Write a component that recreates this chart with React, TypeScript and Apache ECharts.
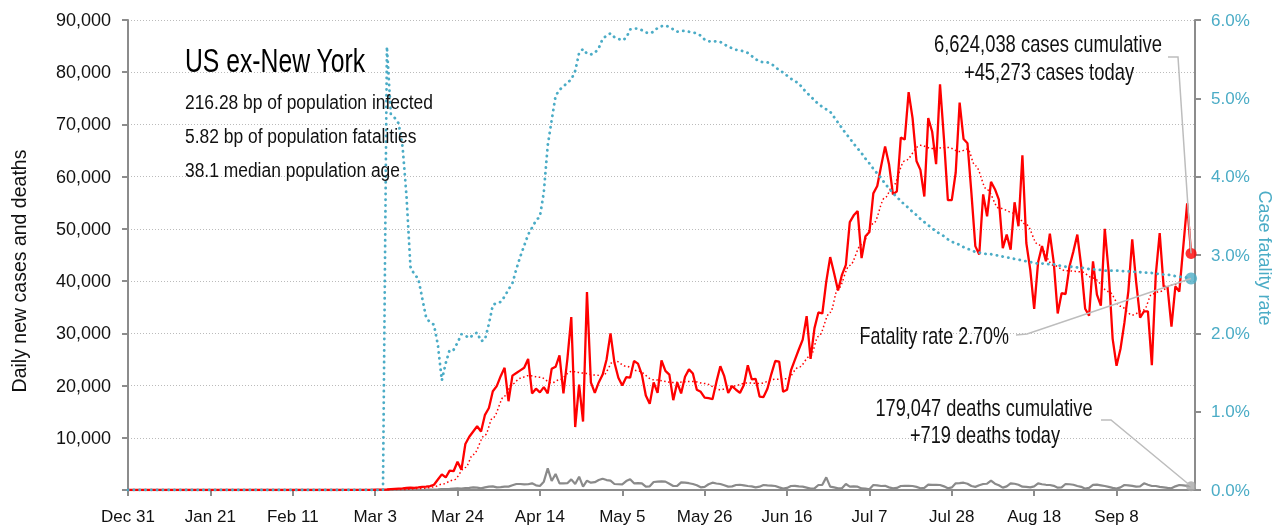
import { useEffect, useRef } from "react";
import * as echarts from "echarts";

const FONT = "'Liberation Sans', Arial, sans-serif";

// x-axis tick labels every 21 days starting Dec 31, 2019
const xTickLabels = ["Dec 31", "Jan 21", "Feb 11", "Mar 3", "Mar 24", "Apr 14", "May 5", "May 26", "Jun 16", "Jul 7", "Jul 28", "Aug 18", "Sep 8"];
const TICK_STEP = 21;
const AXIS_DAYS = 272; // last axis position (day index from Dec 31)

// daily new cases, day 0 = Dec 31
const dailyCases = [
  0, 0, 0, 0, 0, 0, 0, 0, 0, 0,
  0, 0, 0, 0, 0, 0, 0, 0, 0, 0,
  0, 0, 0, 0, 0, 0, 0, 0, 0, 0,
  0, 0, 0, 0, 0, 0, 0, 0, 0, 0,
  0, 0, 0, 0, 0, 0, 0, 0, 0, 0,
  0, 1, 0, 2, 3, 5, 8, 10, 15, 20,
  25, 30, 40, 50, 60, 80, 100, 150, 200, 250,
  300, 380, 450, 420, 500, 600, 650, 750, 1000, 2000,
  3000, 2400, 3700, 3600, 5400, 3900, 8800, 10200, 11200, 12200,
  11200, 14400, 15700, 18900, 19900, 21800, 23400, 17000, 21900, 22400,
  22900, 23400, 25100, 18500, 19400, 18700, 19700, 18500, 23200, 23600,
  25800, 18500, 25000, 33100, 12050, 20200, 13100, 37900, 20600, 18600,
  20600, 22100, 25000, 30000, 24400, 21500, 20000, 21600, 21500, 24700,
  24200, 22100, 18100, 16500, 20600, 18600, 24800, 22800, 22100, 17200,
  20600, 18500, 21700, 23100, 22300, 19200, 18800, 17700, 17600, 17400,
  20700, 23700, 21800, 18600, 19900, 19200, 18600, 20100, 23900, 21200,
  21300, 17900, 17800, 19400, 22200, 24700, 24600, 18800, 19200, 22900,
  24900, 26900, 28800, 33300, 25100, 31000, 34000, 33800, 39900, 44600,
  41500, 38200, 41200, 43100, 51300, 52600, 53400, 44400, 48600, 49400,
  56800, 58200, 62100, 65800, 62400, 56600, 57200, 67500, 67100, 76200,
  71200, 63000, 61300, 56200, 71200, 68600, 62400, 77700, 67300, 55500,
  55500, 60800, 74200, 67200, 66400, 56900, 46700, 45100, 56600, 52400,
  59000, 57600, 55600, 46300, 48900, 46000, 55100, 50500, 64100, 47300,
  42200, 34700, 43600, 46700, 43800, 49100, 43500, 33800, 37700, 37500,
  42800, 45700, 48900, 42800, 34700, 33400, 43800, 37400, 35300, 50000,
  41700, 29000, 23800, 27000, 32000, 38000, 48000, 39800, 33000, 34200,
  34200, 23900, 41200, 49200, 39000, 38800, 31300, 39000, 38000, 46500,
  54900, 45273,
];

// daily new deaths
const dailyDeaths = [
  0, 0, 0, 0, 0, 0, 0, 0, 0, 0,
  0, 0, 0, 0, 0, 0, 0, 0, 0, 0,
  0, 0, 0, 0, 0, 0, 0, 0, 0, 0,
  0, 0, 0, 0, 0, 0, 0, 0, 0, 0,
  0, 0, 0, 0, 0, 0, 0, 0, 0, 0,
  0, 0, 0, 0, 0, 0, 0, 0, 0, 0,
  0, 0, 0, 0, 0, 0,
  1, 5, 5, 10, 10, 20, 20, 30, 40, 50, 60, 80, 100, 120, 150,
  180, 200, 250, 300, 280, 350, 420, 500, 450, 300,
  500, 640, 700, 500, 560, 640, 640, 900, 1150, 1150,
  1080, 1100, 1280, 900, 770, 1600, 4150, 1720, 3060, 1280,
  1250, 1300, 2040, 1150, 2550, 640, 1790, 1400, 1500, 1900,
  2170, 1900, 1790, 1150, 1100, 1080, 1700, 2040, 1280, 1300,
  1280, 640, 700, 1530, 1600, 1650, 1600, 1200, 770, 800,
  1470, 1400, 1300, 1150, 900, 510, 600, 1100, 1400, 1250,
  1150, 900, 640, 700, 960, 1000, 900, 770, 700, 500,
  640, 960, 900, 850, 770, 500, 260, 400, 770, 800,
  700, 640, 450, 260, 300, 960, 1000, 2420, 640, 500,
  320, 320, 1150, 640, 700, 640, 300, 260, 130, 960,
  900, 770, 800, 500, 320, 400, 770, 800, 800, 770,
  600, 320, 400, 1020, 1000, 1000, 960, 700, 320, 500,
  1280, 1300, 1400, 1200, 770, 600, 900, 1150, 1200, 1790,
  1200, 900, 450, 700, 1280, 1200, 1000, 640, 600, 510,
  700, 1280, 1100, 1000, 960, 800, 450, 500, 1150, 1100,
  1000, 770, 600, 260, 400, 1000, 1020, 900, 770, 600,
  400, 260, 500, 960, 900, 800, 640, 700, 1280, 1000,
  770, 770, 600, 510, 400, 320, 700, 960, 900, 800,
  719,
];

// case fatality rate, %
const fatalityRate = [
  0, 0, 0, 0, 0, 0, 0, 0, 0, 0,
  0, 0, 0, 0, 0, 0, 0, 0, 0, 0,
  0, 0, 0, 0, 0, 0, 0, 0, 0, 0,
  0, 0, 0, 0, 0, 0, 0, 0, 0, 0,
  0, 0, 0, 0, 0, 0, 0, 0, 0, 0,
  0, 0, 0, 0, 0, 0, 0, 0, 0, 0,
  0, 0, 0, 0, 0, 0,
  5.66, 4.80, 4.75, 4.68, 4.38, 3.75, 2.85, 2.75, 2.70, 2.45,
  2.20, 2.14, 2.11, 1.85, 1.40, 1.62, 1.79, 1.79, 1.88, 1.99,
  1.97, 1.94, 1.98, 2.01, 1.90, 1.92, 2.12, 2.36, 2.39, 2.40,
  2.47, 2.56, 2.64, 2.82, 2.98, 3.12, 3.26, 3.35, 3.44, 3.49,
  3.80, 4.40, 4.72, 5.03, 5.11, 5.15, 5.20, 5.24, 5.35, 5.58,
  5.63, 5.57, 5.56, 5.58, 5.64, 5.76, 5.80, 5.83, 5.78, 5.76,
  5.74, 5.77, 5.88, 5.89, 5.89, 5.87, 5.84, 5.83, 5.85, 5.90,
  5.92, 5.93, 5.91, 5.88, 5.85, 5.86, 5.86, 5.85, 5.84, 5.83,
  5.80, 5.75, 5.73, 5.72, 5.73, 5.72, 5.69, 5.66, 5.64, 5.62,
  5.61, 5.60, 5.58, 5.54, 5.50, 5.47, 5.46, 5.46, 5.44, 5.40,
  5.36, 5.33, 5.29, 5.25, 5.22, 5.19, 5.13, 5.07, 5.03, 4.97,
  4.93, 4.89, 4.86, 4.83, 4.76, 4.69, 4.62, 4.55, 4.49, 4.42,
  4.36, 4.30, 4.23, 4.17, 4.10, 4.04, 3.98, 3.91, 3.85, 3.79,
  3.74, 3.69, 3.64, 3.60, 3.55, 3.51, 3.46, 3.42, 3.38, 3.34,
  3.30, 3.27, 3.24, 3.20, 3.17, 3.15, 3.13, 3.10, 3.08, 3.06,
  3.04, 3.03, 3.02, 3.01, 3.01, 3.00, 2.99, 2.98, 2.97, 2.96,
  2.95, 2.94, 2.93, 2.92, 2.91, 2.90, 2.89, 2.89, 2.89, 2.88,
  2.88, 2.87, 2.86, 2.85, 2.85, 2.85, 2.84, 2.84, 2.83, 2.82,
  2.82, 2.81, 2.81, 2.80, 2.80, 2.80, 2.80, 2.80, 2.79, 2.79,
  2.79, 2.78, 2.78, 2.78, 2.77, 2.77, 2.76, 2.76, 2.75, 2.75,
  2.74, 2.73, 2.72, 2.72, 2.71, 2.70,
];

// trend (moving average) of cases, read at these days
const trendDays = [0, 60, 70, 75, 78, 80, 83, 86, 88, 91, 93, 96, 98, 100, 102, 105, 108, 110, 113, 116, 119, 121, 124, 127, 130, 134, 139, 144, 147, 151, 154, 158, 161, 165, 168, 171, 174, 176, 179, 181, 184, 187, 190, 193, 195, 198, 202, 205, 209, 212, 214, 216, 219, 222, 226, 229, 232, 236, 239, 243, 246, 250, 253, 256, 259, 261, 263, 266, 268];
const trendValues = [0, 0, 100, 300, 600, 1100, 1900, 4300, 6800, 10500, 13800, 18000, 20300, 21400, 21900, 21600, 20500, 21100, 22700, 22400, 22000, 21900, 24800, 23700, 22800, 21100, 20600, 20800, 20400, 19200, 19900, 20500, 20400, 21200, 21300, 23500, 25700, 29400, 34000, 38500, 43000, 47000, 51000, 56000, 58200, 63000, 66000, 65400, 65600, 64800, 65300, 62100, 57500, 54000, 53000, 50800, 47000, 43000, 42000, 41800, 40600, 38000, 35200, 33500, 34500, 37500, 38000, 39200, 39600];

const titleText = "US ex-New York";
const statLines = ["216.28 bp of population infected", "5.82 bp of population fatalities", "38.1 median population age"];
const casesNote = ["6,624,038 cases cumulative", "+45,273 cases today"];
const deathsNote = ["179,047 deaths cumulative", "+719 deaths today"];
const fatalityNote = "Fatality rate 2.70%";

const RED = "#ff0000";
const BLUE = "#4bacc6";
const GRAY = "#8a8a8a";
const AXIS = "#8c8c8c";
const LEADER = "#bdbdbd";

function dayLabel(i: number): string {
  const d = new Date(Date.UTC(2019, 11, 31 + i));
  const m = ["Jan", "Feb", "Mar", "Apr", "May", "Jun", "Jul", "Aug", "Sep", "Oct", "Nov", "Dec"][d.getUTCMonth()];
  return `${m} ${d.getUTCDate()}`;
}

export default function App() {
  const ref = useRef<HTMLDivElement>(null);
  useEffect(() => {
    const chart = echarts.init(ref.current!, null, { renderer: "svg" });
    const categories = Array.from({ length: AXIS_DAYS + 1 }, (_, i) => dayLabel(i));
    const last = dailyCases.length - 1;

    chart.setOption({
      animation: false,
      textStyle: { fontFamily: FONT },
      grid: { left: 128, right: 80, top: 20, bottom: 39, containLabel: false },
      xAxis: {
        type: "category",
        data: categories,
        boundaryGap: false,
        axisLine: { lineStyle: { color: AXIS, width: 2 } },
        axisTick: { interval: TICK_STEP - 1, length: 6, lineStyle: { color: AXIS, width: 2 } },
        axisLabel: {
          interval: TICK_STEP - 1,
          color: "#111",
          fontSize: 17,
          fontFamily: FONT,
          margin: 18,
          formatter: (_v: string, idx: number) => xTickLabels[idx / TICK_STEP] ?? "",
        },
        splitLine: { show: false },
      },
      yAxis: [
        {
          type: "value",
          min: 0,
          max: 90000,
          interval: 10000,
          axisLine: { show: true, lineStyle: { color: AXIS, width: 2 } },
          axisTick: { show: true, length: 6, lineStyle: { color: AXIS, width: 2 } },
          axisLabel: {
            color: "#111",
            fontSize: 18,
            fontFamily: FONT,
            margin: 17,
            formatter: (v: number) => (v === 0 ? "" : v.toLocaleString("en-US")),
          },
          splitLine: { show: true, lineStyle: { color: "#bbbbbb", width: 1, type: [1, 2] } },
        },
        {
          type: "value",
          min: 0,
          max: 6,
          interval: 1,
          position: "right",
          axisLine: { show: true, lineStyle: { color: AXIS, width: 2 } },
          axisTick: { show: true, length: 6, lineStyle: { color: AXIS, width: 2 } },
          axisLabel: {
            color: BLUE,
            fontSize: 17,
            fontFamily: FONT,
            margin: 16,
            formatter: (v: number) => v.toFixed(1) + "%",
          },
          splitLine: { show: false },
        },
      ],
      series: [
        {
          name: "deaths",
          type: "line",
          data: dailyDeaths,
          showSymbol: false,
          lineStyle: { color: GRAY, width: 2.2 },
          z: 2,
        },
        {
          name: "trend",
          type: "line",
          data: trendDays.map((d, i) => [d, trendValues[i]]),
          showSymbol: false,
          smooth: 0.35,
          smoothMonotone: "x",
          lineStyle: { color: RED, width: 1.5, type: [1.5, 2.5] },
          z: 3,
        },
        {
          name: "cases",
          type: "line",
          data: dailyCases,
          showSymbol: false,
          lineStyle: { color: RED, width: 2.3 },
          z: 4,
        },
        {
          name: "fatality",
          type: "line",
          yAxisIndex: 1,
          data: fatalityRate,
          showSymbol: false,
          lineStyle: { color: BLUE, width: 2.8, type: [0.2, 5.6], cap: "round" },
          z: 5,
        },
        {
          type: "scatter",
          data: [[last, dailyDeaths[last]]],
          symbolSize: 10,
          itemStyle: { color: "#a8a8a8" },
          z: 6,
        },
        {
          type: "scatter",
          data: [[last, dailyCases[last]]],
          symbolSize: 11,
          itemStyle: { color: RED },
          z: 6,
        },
        {
          type: "scatter",
          yAxisIndex: 1,
          data: [[last, fatalityRate[last]]],
          symbolSize: 12,
          itemStyle: { color: BLUE },
          z: 6,
        },
      ],
    });

    const pc = chart.convertToPixel({ xAxisIndex: 0, yAxisIndex: 0 }, [last, dailyCases[last]]) as number[];
    const pd = chart.convertToPixel({ xAxisIndex: 0, yAxisIndex: 0 }, [last, dailyDeaths[last]]) as number[];
    const pf = chart.convertToPixel({ xAxisIndex: 0, yAxisIndex: 1 }, [last, fatalityRate[last]]) as number[];

    const txt = (text: string, x: number, y: number, size: number, sx: number, align = "left", fill = "#111", rotation = 0) => ({
      type: "text",
      x,
      y,
      rotation,
      scaleX: sx,
      z: 10,
      style: { text, fontSize: size, fontFamily: FONT, fill, align, verticalAlign: "middle" },
    });
    const leader = (pts: number[][]) => ({
      type: "polyline",
      z: 7,
      shape: { points: pts },
      style: { stroke: LEADER, lineWidth: 1.5, fill: "none" },
    });

    chart.setOption({
      graphic: [
        txt(titleText, 185, 61, 33, 0.75, "left", "#000"),
        txt(statLines[0], 185, 102, 21, 0.83),
        txt(statLines[1], 185, 136, 21, 0.83),
        txt(statLines[2], 185, 170, 21, 0.83),
        txt(casesNote[0], 1048, 44, 23, 0.8, "center"),
        txt(casesNote[1], 1049, 72, 23, 0.8, "center"),
        txt(fatalityNote, 1009, 336, 23, 0.78, "right"),
        txt(deathsNote[0], 984, 408, 23, 0.79, "center"),
        txt(deathsNote[1], 985, 435, 23, 0.79, "center"),
        txt("Daily new cases and deaths", 19, 271, 19.5, 1, "center", "#111", Math.PI / 2),
        txt("Case fatality rate", 1265, 258, 18, 1, "center", BLUE, -Math.PI / 2),
        leader([[1168, 57], [1178, 57], [pc[0], pc[1]]]),
        leader([[1016, 335], [1027, 334], [pf[0], pf[1]]]),
        leader([[1101, 420], [1111, 420], [pd[0], pd[1]]]),
      ],
    });

    return () => chart.dispose();
  }, []);

  return <div ref={ref} style={{ position: "fixed", left: 0, top: 0, width: 1275, height: 529 }} />;
}
